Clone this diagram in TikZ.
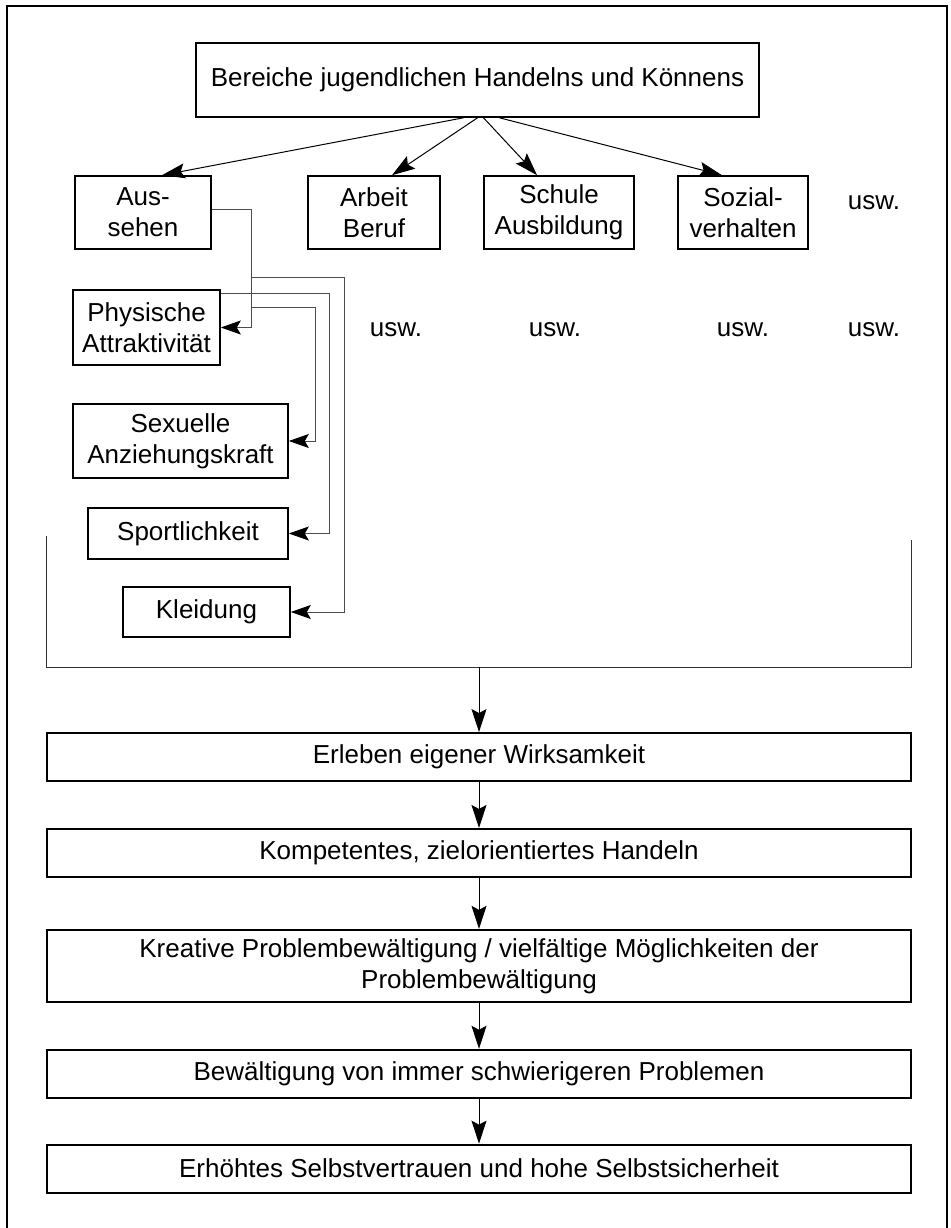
\documentclass[tikz,border=0pt]{standalone}
\usepackage{fontspec}
\setmainfont{Liberation Sans}
\usetikzlibrary{positioning,arrows.meta}

\begin{document}
\begin{tikzpicture}[x=1pt,y=-1pt,
      font=\fontsize{26}{31}\selectfont,
      box/.style={draw,line width=1.6pt,inner sep=0pt,align=center},
      wide/.style={box,line width=1.9pt,minimum width=864pt,minimum height=48pt},
      arr/.style={line width=1pt,-{Stealth[length=23pt,width=15pt,inset=4pt]}},
      conn/.style={gray!60!black,line width=0.9pt,
        -{Stealth[length=20pt,width=14pt,inset=4pt,color=black]}},
      node distance=46pt]

      \useasboundingbox (0,0) rectangle (950,1228);
      \draw[line width=1.6pt] (7,1228) -- (7,6) -- (947,6) -- (947,1228);

      % Bereiche
      \node[box,minimum width=563pt,minimum height=74pt] (node-top) at (477.5,80)
        {Bereiche jugendlichen Handelns und Könnens};
      \node[box,minimum width=136pt,minimum height=73pt] (node-aus) at (143,212.5)
        {Aus-\\sehen};
      \node[box,minimum width=132pt,minimum height=73pt] (node-arb) at (374,212.5)
        {Arbeit\\Beruf};
      \node[box,minimum width=150pt,minimum height=73pt] (node-sch) at (559,212.5)
        {Schule\\Ausbildung};
      \node[box,minimum width=130pt,minimum height=73pt] (node-soz) at (743,212.5)
        {Sozial-\\verhalten};
      \node (usw-top) at (874,203) {usw.};

      \draw[arr] ([xshift=-14pt]node-top.south) -- ([xshift=19pt]node-aus.north);
      \draw[arr] (node-top.south) -- ([xshift=18pt]node-arb.north);
      \draw[arr] ([xshift=6pt]node-top.south) -- ([xshift=-22pt]node-sch.north);
      \draw[arr] ([xshift=22pt]node-top.south) -- ([xshift=-21pt]node-soz.north);

      % Aussehen im Einzelnen
      \node[box,minimum width=147pt,minimum height=75pt] (node-phys) at (146.5,327.5)
        {Physische\\Attraktivität};
      \node[box,minimum width=215pt,minimum height=74pt] (node-sex) at (180.5,441)
        {Sexuelle\\Anziehungskraft};
      \node[box,minimum width=200pt,minimum height=51pt] (node-sport) at (188,533.5)
        {Sportlichkeit};
      \node[box,minimum width=167pt,minimum height=50pt] (node-kleid) at (206.5,612)
        {Kleidung};
      \node (usw-a) at (396,330) {usw.};
      \node (usw-b) at (555,330) {usw.};
      \node (usw-c) at (743,330) {usw.};
      \node (usw-d) at (874,330) {usw.};

      \coordinate (branch-a) at (251,277);
      \coordinate (branch-b) at (251,307);
      \draw[conn] ([yshift=3pt]node-aus.east) -| ([xshift=31pt]node-phys.east)
        -- (node-phys.east);
      \draw[conn] (branch-a) -| ([xshift=54pt]node-kleid.east) -- (node-kleid.east);
      \draw[conn] ([yshift=-4pt]node-phys.north east) -| ([xshift=41pt]node-sport.east)
        -- (node-sport.east);
      \draw[conn] (branch-b) -| ([xshift=27pt]node-sex.east) -- (node-sex.east);

      % Klammer
      \draw[line width=1pt,gray!40!black] (46,536) |- (911,667) -- (911,540);
      \coordinate (merge) at (479,667);

      % Folgen
      \node[wide] (node-erl) at (479,757) {Erleben eigener Wirksamkeit};
      \node[wide,below=of node-erl] (node-komp) {Kompetentes, zielorientiertes Handeln};
      \node[wide,minimum height=72pt,below=51pt of node-komp] (node-krea)
        {Kreative Problembewältigung / vielfältige Möglichkeiten der\\Problembewältigung};
      \node[wide,below=of node-krea] (node-bew) {Bewältigung von immer schwierigeren Problemen};
      \node[wide,below=45pt of node-bew] (node-erh) {Erhöhtes Selbstvertrauen und hohe Selbstsicherheit};

      \draw[arr] (merge) -- (node-erl);
      \draw[arr] (node-erl) -- (node-komp);
      \draw[arr] (node-komp) -- (node-krea);
      \draw[arr] (node-krea) -- (node-bew);
      \draw[arr] (node-bew) -- (node-erh);
    \end{tikzpicture}
\end{document}
